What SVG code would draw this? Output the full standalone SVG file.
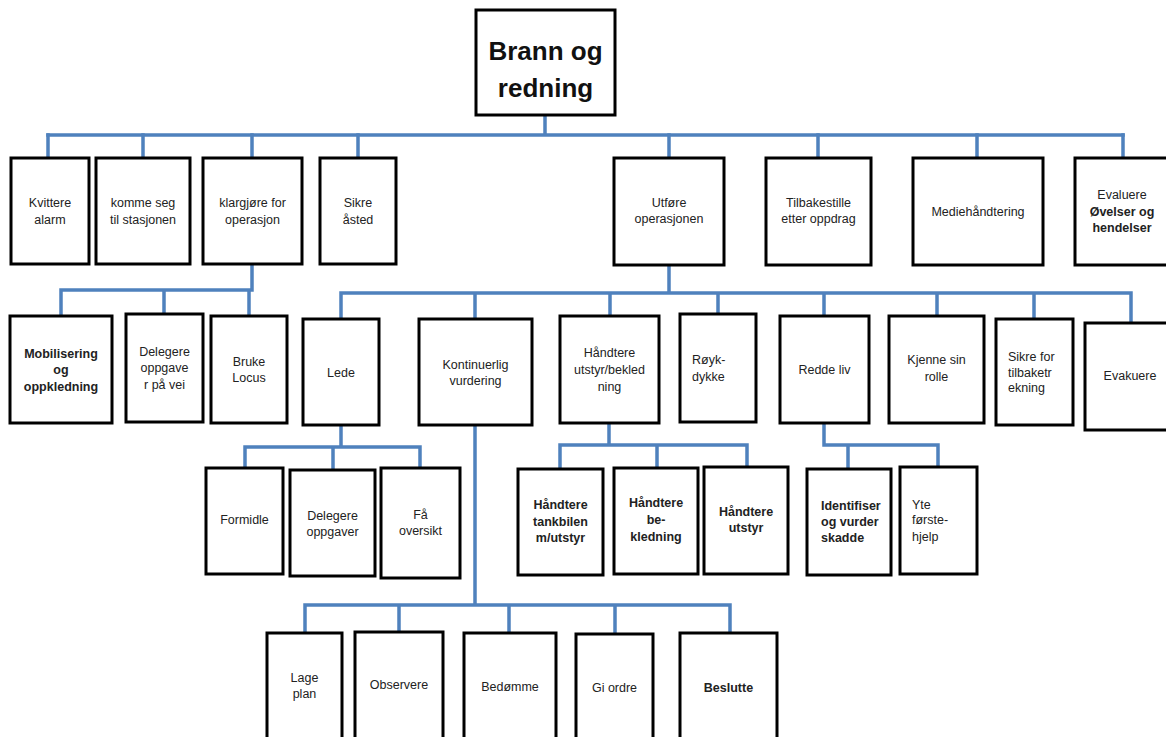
<svg xmlns="http://www.w3.org/2000/svg" width="1166" height="737" viewBox="0 0 1166 737">
  <style>
    .box { fill: #ffffff; stroke: #000000; stroke-width: 3; }
    .c { fill: none; stroke: #4f81bd; stroke-width: 3.5; stroke-linecap: square; }
    text { font-family: "Liberation Sans", Arial, sans-serif; font-size: 12.5px; fill: #222222; text-anchor: middle; }
    .b { font-weight: bold; }
    .l { text-anchor: start; }
    .root { font-size: 26px; font-weight: bold; fill: #111111; }
  </style>
  <rect width="1166" height="737" fill="#ffffff"/>

  <!-- connectors -->
  <g id="connectors">
    <path class="c" d="M545 115 V135 M48 135 H1123"/>
    <path class="c" d="M48 135 V158 M143 135 V158 M252 135 V158 M358 135 V158 M669 135 V158 M818 135 V158 M977 135 V158 M1123 135 V158"/>
    <path class="c" d="M252 264 V290 M61 290 H252 M61 290 V316 M164 290 V314 M249 290 V316"/>
    <path class="c" d="M669 265 V293 M341 293 H1131 M341 293 V319 M475 293 V319 M610 293 V316 M718 293 V314 M824 293 V316 M937 293 V316 M1034 293 V319 M1131 293 V323"/>
    <path class="c" d="M341 425 V447 M245 447 H420 M245 447 V468 M333 447 V470 M420 447 V468"/>
    <path class="c" d="M475 425 V605 M305 605 H730 M305 605 V633 M399 605 V632 M509 605 V633 M615 605 V634 M730 605 V633"/>
    <path class="c" d="M609 423 V445 M560 445 H747 M560 445 V469 M657 445 V468 M747 445 V467"/>
    <path class="c" d="M824 423 V445 H938 M848 445 V469 M938 445 V467"/>
  </g>

  <!-- root -->
  <g id="n-root">
    <rect class="box" x="476" y="10" width="139" height="105"/>
    <text class="root" x="545.5" y="60">Brann og</text>
    <text class="root" x="545.5" y="97">redning</text>
  </g>

  <!-- level 1 -->
  <g id="n-kvittere">
    <rect class="box" x="11" y="158" width="78" height="106"/>
    <text x="50" y="207">Kvittere</text><text x="50" y="224">alarm</text>
  </g>
  <g id="n-komme">
    <rect class="box" x="96" y="158" width="94" height="106"/>
    <text x="143" y="207">komme seg</text><text x="143" y="224">til stasjonen</text>
  </g>
  <g id="n-klargjore">
    <rect class="box" x="203" y="158" width="99" height="106"/>
    <text x="252.5" y="207">klargjøre for</text><text x="252.5" y="224">operasjon</text>
  </g>
  <g id="n-sikre">
    <rect class="box" x="320" y="158" width="76" height="106"/>
    <text x="358" y="207">Sikre</text><text x="358" y="224">åsted</text>
  </g>
  <g id="n-utfore">
    <rect class="box" x="614" y="158" width="110" height="107"/>
    <text x="669" y="207">Utføre</text><text x="669" y="223">operasjonen</text>
  </g>
  <g id="n-tilbakestille">
    <rect class="box" x="766" y="158" width="105" height="107"/>
    <text x="818.5" y="207">Tilbakestille</text><text x="818.5" y="223">etter oppdrag</text>
  </g>
  <g id="n-medie">
    <rect class="box" x="913" y="158" width="130" height="107"/>
    <text x="978" y="216">Mediehåndtering</text>
  </g>
  <g id="n-evaluere">
    <rect class="box" x="1075" y="158" width="96" height="107"/>
    <text x="1122" y="199">Evaluere</text>
    <text class="b" x="1122" y="216">Øvelser og</text>
    <text class="b" x="1122" y="232">hendelser</text>
  </g>

  <!-- level 2 under klargjøre -->
  <g id="n-mobilisering">
    <rect class="box" x="10" y="316" width="102" height="107"/>
    <text class="b" x="61" y="358">Mobilisering</text>
    <text class="b" x="61" y="374">og</text>
    <text class="b" x="61" y="391">oppkledning</text>
  </g>
  <g id="n-delegere-vei">
    <rect class="box" x="126" y="314" width="77" height="108"/>
    <text x="164.5" y="356">Delegere</text><text x="164.5" y="372">oppgave</text><text x="164.5" y="389">r på vei</text>
  </g>
  <g id="n-locus">
    <rect class="box" x="211" y="316" width="76" height="107"/>
    <text x="249" y="366">Bruke</text><text x="249" y="382">Locus</text>
  </g>

  <!-- level 2 under Utføre -->
  <g id="n-lede">
    <rect class="box" x="303" y="319" width="76" height="106"/>
    <text x="341" y="377">Lede</text>
  </g>
  <g id="n-kontinuerlig">
    <rect class="box" x="419" y="319" width="113" height="106"/>
    <text x="475.5" y="369">Kontinuerlig</text><text x="475.5" y="385">vurdering</text>
  </g>
  <g id="n-handtere-utstyr">
    <rect class="box" x="560" y="316" width="99" height="107"/>
    <text x="609.5" y="357">Håndtere</text><text x="609.5" y="374">utstyr/bekled</text><text x="609.5" y="391">ning</text>
  </g>
  <g id="n-royk">
    <rect class="box" x="680" y="314" width="76" height="108"/>
    <text class="l" x="692" y="364">Røyk-</text><text class="l" x="692" y="381">dykke</text>
  </g>
  <g id="n-redde">
    <rect class="box" x="780" y="316" width="89" height="107"/>
    <text x="824.5" y="374">Redde liv</text>
  </g>
  <g id="n-kjenne">
    <rect class="box" x="889" y="316" width="95" height="107"/>
    <text x="936.5" y="364">Kjenne sin</text><text x="936.5" y="381">rolle</text>
  </g>
  <g id="n-sikre-tilbake">
    <rect class="box" x="996" y="319" width="77" height="106"/>
    <text class="l" x="1008" y="361">Sikre for</text><text class="l" x="1008" y="377">tilbaketr</text><text class="l" x="1008" y="392">ekning</text>
  </g>
  <g id="n-evakuere">
    <rect class="box" x="1085" y="323" width="90" height="107"/>
    <text x="1130" y="380">Evakuere</text>
  </g>

  <!-- level 3 under Lede -->
  <g id="n-formidle">
    <rect class="box" x="206" y="468" width="77" height="106"/>
    <text x="244.5" y="524">Formidle</text>
  </g>
  <g id="n-delegere">
    <rect class="box" x="290" y="470" width="85" height="106"/>
    <text x="332.5" y="520">Delegere</text><text x="332.5" y="536">oppgaver</text>
  </g>
  <g id="n-oversikt">
    <rect class="box" x="381" y="468" width="79" height="110"/>
    <text x="420.5" y="519">Få</text><text x="420.5" y="535">oversikt</text>
  </g>

  <!-- level 3 under Håndtere utstyr/bekledning -->
  <g id="n-tankbilen">
    <rect class="box" x="518" y="469" width="85" height="106"/>
    <text class="b" x="560.5" y="509">Håndtere</text><text class="b" x="560.5" y="526">tankbilen</text><text class="b" x="560.5" y="542">m/utstyr</text>
  </g>
  <g id="n-bekledning">
    <rect class="box" x="614" y="468" width="84" height="106"/>
    <text class="b" x="656" y="507">Håndtere</text><text class="b" x="656" y="524">be-</text><text class="b" x="656" y="541">kledning</text>
  </g>
  <g id="n-utstyr">
    <rect class="box" x="704" y="467" width="84" height="107"/>
    <text class="b" x="746" y="516">Håndtere</text><text class="b" x="746" y="532">utstyr</text>
  </g>

  <!-- level 3 under Redde liv -->
  <g id="n-identifiser">
    <rect class="box" x="807" y="469" width="84" height="106"/>
    <text class="b l" x="821" y="510">Identifiser</text><text class="b l" x="821" y="526">og vurder</text><text class="b l" x="821" y="542">skadde</text>
  </g>
  <g id="n-forstehjelp">
    <rect class="box" x="900" y="467" width="77" height="107"/>
    <text class="l" x="912" y="509">Yte</text><text class="l" x="912" y="524">første-</text><text class="l" x="912" y="541">hjelp</text>
  </g>

  <!-- level 3 under Kontinuerlig vurdering -->
  <g id="n-lage-plan">
    <rect class="box" x="267" y="633" width="75" height="120"/>
    <text x="304.5" y="682">Lage</text><text x="304.5" y="698">plan</text>
  </g>
  <g id="n-observere">
    <rect class="box" x="355" y="632" width="88" height="121"/>
    <text x="399" y="689">Observere</text>
  </g>
  <g id="n-bedomme">
    <rect class="box" x="464" y="633" width="92" height="120"/>
    <text x="510" y="691">Bedømme</text>
  </g>
  <g id="n-gi-ordre">
    <rect class="box" x="576" y="634" width="77" height="119"/>
    <text x="614.5" y="692">Gi ordre</text>
  </g>
  <g id="n-beslutte">
    <rect class="box" x="680" y="633" width="97" height="120"/>
    <text class="b" x="728.5" y="692">Beslutte</text>
  </g>
</svg>
